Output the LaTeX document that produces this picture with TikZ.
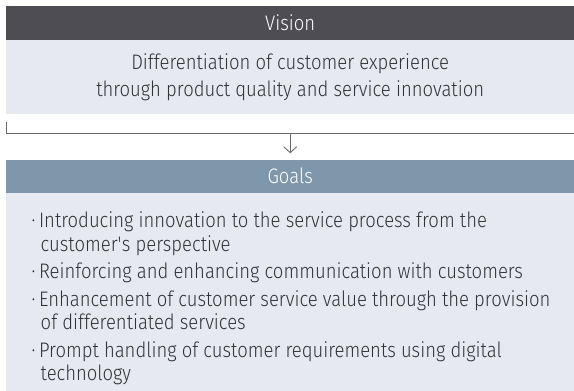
\documentclass[tikz,border=0pt]{standalone}
\usepackage{fontspec}
\setmainfont{Fira Sans}[UprightFont={* Light}, FakeStretch=0.88]
\usepackage{tikz}
\usetikzlibrary{arrows.meta,positioning}

\definecolor{visdark}{HTML}{4E4D53}
\definecolor{paleblue}{HTML}{E6EAF0}
\definecolor{goalblue}{HTML}{7F97AA}
\definecolor{textgray}{HTML}{333333}
\definecolor{linegray}{HTML}{6A6A6A}

\begin{document}
\begin{tikzpicture}[
          x=1pt, y=1pt,
          head/.style={rectangle, anchor=north west, minimum width=568pt,
                       minimum height=33.5pt, inner sep=0pt, text=white,
                       font=\fontsize{21}{24}\selectfont},
          body/.style={rectangle, anchor=north west, minimum width=568pt,
                       inner sep=0pt, fill=paleblue, text=textgray},
          link/.style={draw=linegray, line width=0.9pt},
          >={Straight Barb[length=6pt, width=13pt, line width=0.9pt]}
        ]
        \useasboundingbox (0,0) rectangle (574,-391);
        % vision block
        \node[head, fill=visdark] (vishead) at (6,-6) {Vision};
        \node[body, minimum height=74pt, align=center,
              font=\fontsize{21}{26.7}\selectfont] (visbody) at (vishead.south west)
             {Differentiation of customer experience\\through product quality and service innovation};
        % bracket and arrow
        \coordinate (brkL) at ([yshift=-7.7pt]visbody.south west);
        \coordinate (brkR) at ([yshift=-19pt]visbody.south east);
        \draw[link] (brkL) |- (brkR);
        \node[head, fill=goalblue] (goalhead) at ([yshift=-45pt]visbody.south west) {Goals};
        \draw[link, ->] (visbody.south |- brkR) -- ([yshift=6pt]goalhead.north);
        % goals block
        \node[body, minimum height=199pt] (goalbody) at (goalhead.south west) {};
        \node[anchor=north west, inner sep=0pt, align=left, text=textgray,
              font=\fontsize{21}{23.3}\selectfont] (goallist) at ([xshift=25.5pt, yshift=-18.5pt]goalbody.north west)
             {\textperiodcentered\,Introducing innovation to the service process from the\\
              \hspace*{9pt}customer\textquotesingle s perspective\\[4.3pt]
              \textperiodcentered\,Reinforcing and enhancing communication with customers\\[4.3pt]
              \textperiodcentered\,Enhancement of customer service value through the provision\\
              \hspace*{9pt}of differentiated services\\[4.3pt]
              \textperiodcentered\,Prompt handling of customer requirements using digital\\
              \hspace*{9pt}technology};
      \end{tikzpicture}
\end{document}
